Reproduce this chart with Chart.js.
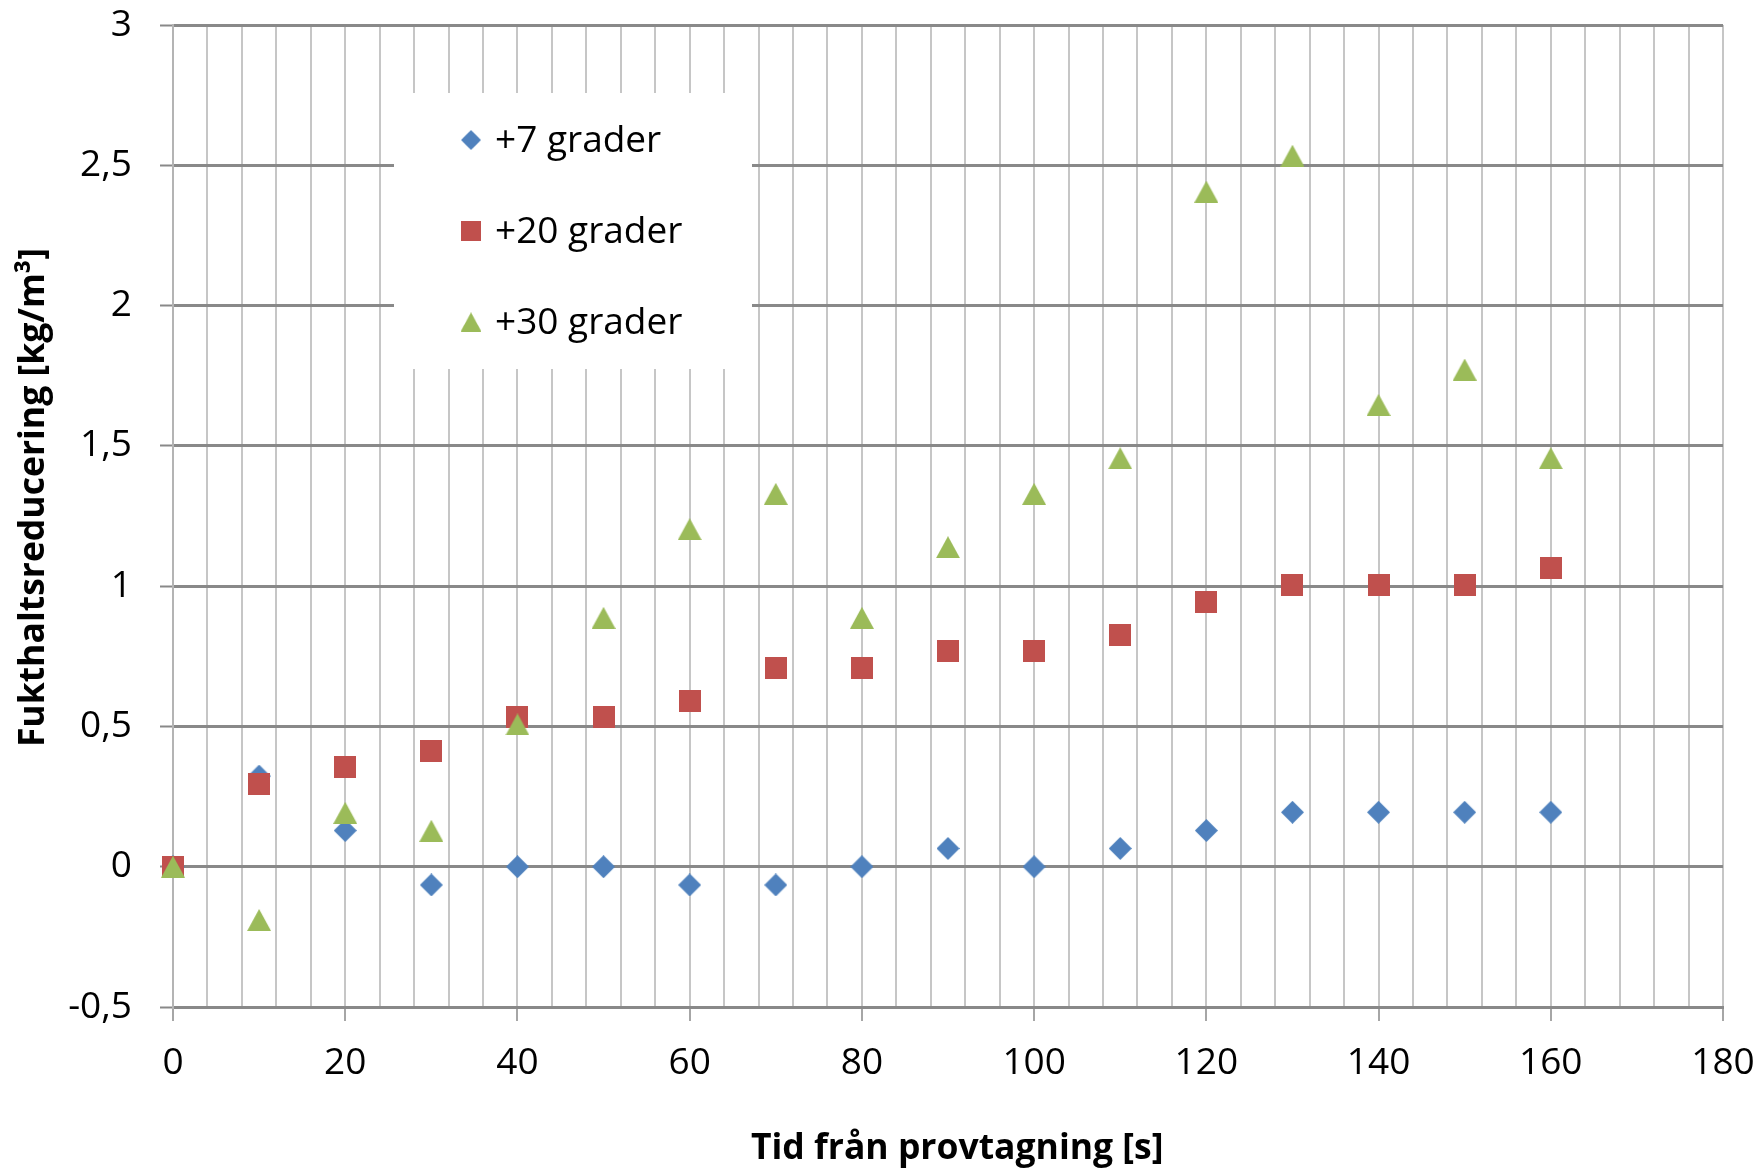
<!DOCTYPE html>
<html>
<head>
<meta charset="utf-8">
<script src="https://cdn.jsdelivr.net/npm/chart.js@4/dist/chart.umd.min.js"></script>
<style>
  html, body { margin: 0; padding: 0; background: #ffffff; }
  #wrap { width: 1760px; height: 1172px; }
</style>
</head>
<body>
<div id="wrap"><canvas id="c" width="1760" height="1172"></canvas></div>
<script>
// ---- data ----
const times = [0, 10, 20, 30, 40, 50, 60, 70, 80, 90, 100, 110, 120, 130, 140, 150, 160];
const plus7 = [0, 0.323, 0.129, -0.065, 0, 0, -0.065, -0.065, 0, 0.065, 0, 0.065, 0.129, 0.194, 0.194, 0.194, 0.194];
const plus20 = [0, 0.296, 0.355, 0.412, 0.532, 0.532, 0.590, 0.708, 0.708, 0.768, 0.768, 0.826, 0.945, 1.005, 1.005, 1.005, 1.064];
const plus30 = [0, -0.19, 0.192, 0.128, 0.507, 0.887, 1.203, 1.329, 0.887, 1.139, 1.329, 1.456, 2.406, 2.534, 1.646, 1.772, 1.456];
const seriesNames = ['+7 grader', '+20 grader', '+30 grader'];
const seriesColors = ['#4F81BD', '#C0504D', '#9BBB59'];
const xTickValues = [0, 20, 40, 60, 80, 100, 120, 140, 160, 180];
const yTickValues = [-0.5, 0, 0.5, 1, 1.5, 2, 2.5, 3];
const xTitle = 'Tid från provtagning [s]';
const yTitle = 'Fukthaltsreducering [kg/m³]';

// ---- marker images (Excel-like, bbox centred) ----
function makeMarker(shape, color) {
  const c = document.createElement('canvas');
  const w = shape === 'triangle' ? 24 : (shape === 'diamond' ? 23 : 22);
  const h = shape === 'triangle' ? 22 : (shape === 'diamond' ? 23 : 22);
  c.width = w; c.height = h;
  const g = c.getContext('2d');
  g.fillStyle = color;
  g.beginPath();
  if (shape === 'diamond') {
    g.moveTo(w / 2, 0); g.lineTo(w, h / 2); g.lineTo(w / 2, h); g.lineTo(0, h / 2);
  } else if (shape === 'square') {
    g.rect(0, 0, w, h);
  } else {
    g.moveTo(w / 2, 0); g.lineTo(w, h); g.lineTo(0, h);
  }
  g.closePath();
  g.fill();
  return c;
}
const markers = [
  makeMarker('diamond', seriesColors[0]),
  makeMarker('square', seriesColors[1]),
  makeMarker('triangle', seriesColors[2])
];

const seriesValues = [plus7, plus20, plus30];
const datasets = seriesValues.map((vals, k) => ({
  label: seriesNames[k],
  data: times.map((t, i) => ({ x: t, y: vals[i] })),
  pointStyle: markers[k],
  backgroundColor: seriesColors[k],
  borderColor: seriesColors[k],
  showLine: false,
  clip: false,
  order: 3 - k
}));

const FONT = "'Open Sans', 'DejaVu Sans', sans-serif";

// legend drawn as a white box inside the plot area
const insideLegend = {
  id: 'insideLegend',
  beforeDatasetsDraw(chart) {
    const ctx = chart.ctx;
    ctx.save();
    ctx.fillStyle = '#ffffff';
    ctx.fillRect(394, 93, 358, 276);
    ctx.font = '37px ' + FONT;
    ctx.fillStyle = '#000000';
    ctx.textBaseline = 'middle';
    ctx.textAlign = 'left';
    const rows = [140, 231, 322];
    chart.data.datasets.forEach((ds, k) => {
      const img = ds.pointStyle;
      const s = 0.87;
      ctx.drawImage(img, 471 - img.width * s / 2, rows[k] - img.height * s / 2, img.width * s, img.height * s);
      ctx.fillText(ds.label, 495, rows[k] + 1);
    });
    ctx.restore();
  }
};

new Chart(document.getElementById('c'), {
  type: 'scatter',
  data: { datasets },
  plugins: [insideLegend],
  options: {
    responsive: false,
    animation: false,
    devicePixelRatio: 1,
    layout: { padding: { top: 25, right: 37, left: 0, bottom: 0 } },
    plugins: { legend: { display: false }, tooltip: { enabled: false } },
    scales: {
      x: {
        type: 'linear',
        min: 0, max: 180,
        z: -1,
        afterBuildTicks: (s) => {
          const t = [];
          for (let v = s.min; v <= s.max; v += 4) t.push({ value: v });
          s.ticks = t;
        },
        ticks: {
          autoSkip: false, maxRotation: 0, padding: 20,
          color: '#000000',
          font: { family: FONT, size: 37 },
          callback: (v) => xTickValues.includes(v) ? String(v) : ''
        },
        grid: {
          color: '#c6c6c6', lineWidth: 2,
          drawTicks: true, tickLength: 14, tickWidth: 2,
          tickColor: (ctx) => (ctx.tick && xTickValues.includes(ctx.tick.value)) ? '#a6a6a6' : 'rgba(0,0,0,0)'
        },
        border: { color: '#898989', width: 3 },
        title: {
          display: true, text: '  ' + xTitle, color: '#000000',
          font: { family: FONT, size: 35.5, weight: 'bold' },
          padding: { top: 0, bottom: 2 }
        },
        afterFit: (s) => { s.height = 165; s.paddingLeft = 0; s.paddingRight = 0; }
      },
      y: {
        type: 'linear',
        min: -0.5, max: 3,
        afterBuildTicks: (s) => { s.ticks = yTickValues.map(v => ({ value: v })); },
        ticks: {
          padding: 28, color: '#000000',
          font: { family: FONT, size: 37 },
          callback: (v) => String(v).replace('.', ',')
        },
        grid: {
          color: '#898989', lineWidth: 3,
          drawTicks: true, tickLength: 13, tickWidth: 2, tickColor: '#898989'
        },
        border: { color: '#b4b4b4', width: 2 },
        title: {
          display: true, text: '    ' + yTitle, color: '#000000',
          font: { family: FONT, size: 35.5, weight: 'bold' },
          padding: { top: 13, bottom: 0 }
        },
        afterFit: (s) => { s.width = 173; s.paddingTop = 0; s.paddingBottom = 0; }
      }
    }
  }
});
</script>
</body>
</html>
